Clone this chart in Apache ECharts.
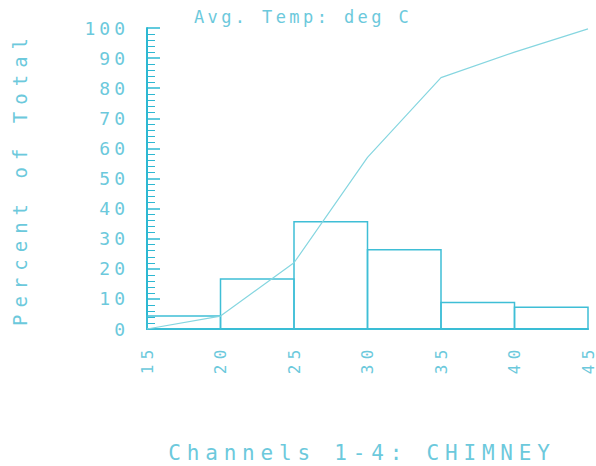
<!DOCTYPE html>
<html>
<head>
<meta charset="utf-8">
<script src="https://cdn.jsdelivr.net/npm/echarts@6/dist/echarts.min.js"></script>
<style>
html,body{margin:0;padding:0;background:#fff;}
#chart{width:596px;height:466px;}
text[style*="16px"]{letter-spacing:5.5px;}
text[style*="17px"]{letter-spacing:3.4px;}
text[style*="18px"]{letter-spacing:4px;}
text[style*="19px"]{letter-spacing:7px;}
text[style*="21px"]{letter-spacing:5.8px;}
</style>
</head>
<body>
<div id="chart"></div>
<script>
// Histogram bins (deg C) and percent of total in each bin
var binStart = [15, 20, 25, 30, 35, 40];
var binEnd   = [20, 25, 30, 35, 40, 45];
var percent  = [4.3, 16.6, 35.6, 26.3, 8.8, 7.2];
// Cumulative percent curve
var cumX     = [15, 20, 25, 30, 35, 40, 45];
var cumPct   = [0, 4.3, 22, 57, 83.5, 92, 99.7];
// Axis ticks
var xTicks   = [15, 20, 25, 30, 35, 40, 45];
var yTicks   = [0, 10, 20, 30, 40, 50, 60, 70, 80, 90, 100];

var titleText  = 'Avg. Temp: deg C';
var yName      = 'Percent of Total';
var footerText = 'Channels 1-4: CHIMNEY';

var FONT = '"DejaVu Sans Mono", "Liberation Mono", monospace';
var TXT = '#6cc9dc';
var AX = '#2db8d2';

var chart = echarts.init(document.getElementById('chart'), null, {renderer: 'svg'});

var barData = binStart.map(function (s, i) { return [s, binEnd[i], percent[i]]; });
var lineData = cumX.map(function (x, i) { return [x, cumPct[i]]; });

chart.setOption({
  backgroundColor: '#ffffff',
  animation: false,
  grid: {left: 147, right: 8, top: 28, bottom: 137, outerBoundsMode: 'none', containLabel: false},
  graphic: [
    {type: 'text', x: 303, y: 17, z: 10,
      style: {text: titleText, fill: TXT, fontFamily: FONT, fontSize: 17, textAlign: 'center', textVerticalAlign: 'middle'}},
    {type: 'text', x: 362, y: 453, z: 10,
      style: {text: footerText, fill: TXT, fontFamily: FONT, fontSize: 21, textAlign: 'center', textVerticalAlign: 'middle'}}
  ],
  xAxis: {
    type: 'value', min: 15, max: 45, interval: 5,
    axisLine: {show: true, onZero: false, lineStyle: {color: AX, width: 2}},
    axisTick: {show: false},
    splitLine: {show: false},
    axisLabel: {
      rotate: 90, margin: 15, color: TXT, fontFamily: FONT, fontSize: 16,
      customValues: xTicks,
      formatter: function (v) { return String(v); }
    }
  },
  yAxis: {
    type: 'value', min: 0, max: 100, interval: 10,
    name: yName, nameLocation: 'middle', nameGap: 118, nameRotate: 90,
    nameTextStyle: {color: TXT, fontFamily: FONT, fontSize: 19},
    axisLine: {show: true, lineStyle: {color: AX, width: 2}},
    axisTick: {show: true, inside: true, length: 13, lineStyle: {color: AX, width: 1.5}},
    minorTick: {show: true, splitNumber: 5, length: 8, lineStyle: {color: AX, width: 1}},
    splitLine: {show: false},
    axisLabel: {
      margin: 18, color: TXT, fontFamily: FONT, fontSize: 18,
      customValues: yTicks,
      formatter: function (v) { return String(v); }
    }
  },
  series: [
    {
      type: 'custom',
      data: barData,
      encode: {x: [0, 1], y: 2},
      renderItem: function (params, api) {
        var p0 = api.coord([api.value(0), api.value(2)]);
        var p1 = api.coord([api.value(1), 0]);
        return {
          type: 'rect',
          shape: {x: p0[0], y: p0[1], width: p1[0] - p0[0], height: p1[1] - p0[1]},
          style: {fill: 'none', stroke: '#3fbed6', lineWidth: 1.5}
        };
      },
      z: 2
    },
    {
      type: 'line',
      data: lineData,
      symbol: 'none',
      lineStyle: {color: '#86d6e0', width: 1.2},
      z: 3
    }
  ]
});
</script>
</body>
</html>
